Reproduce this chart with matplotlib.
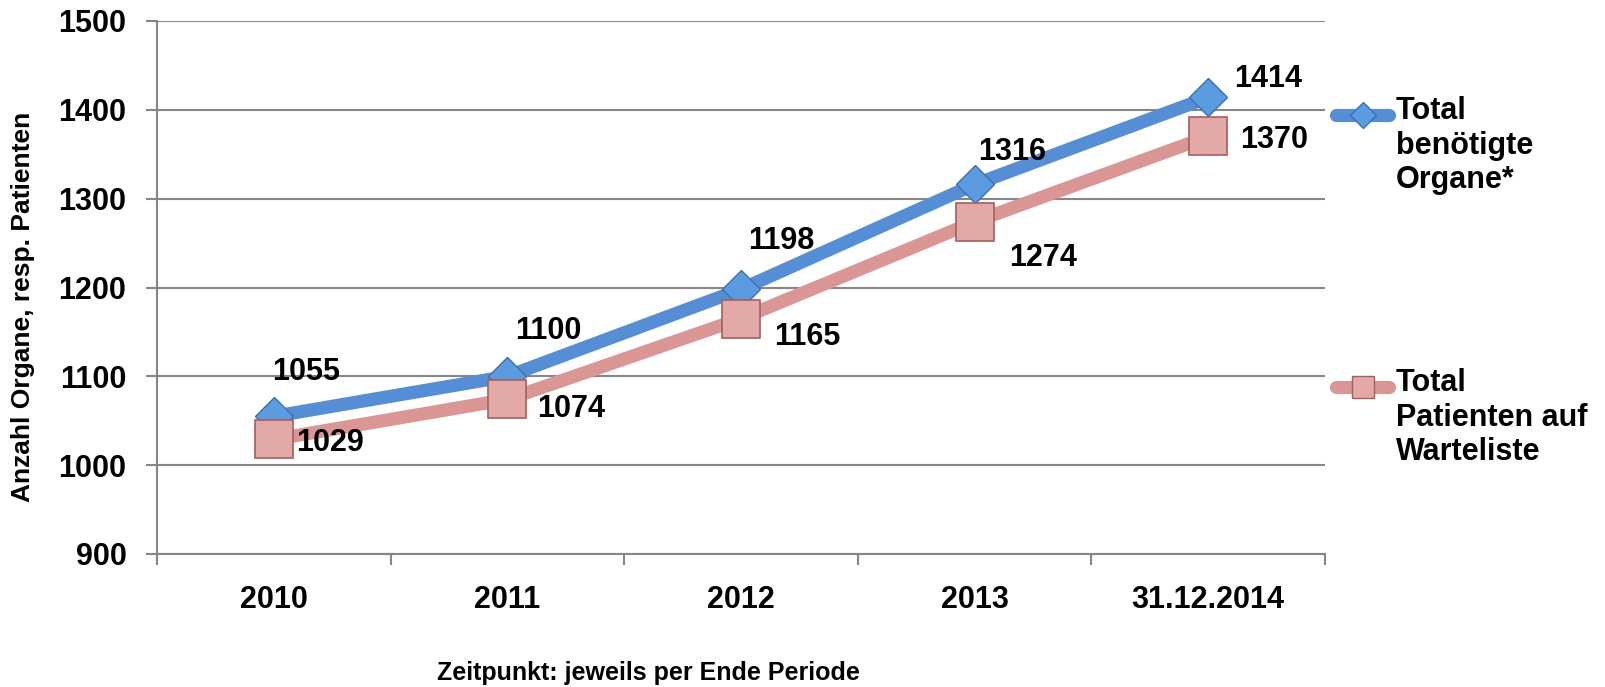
import matplotlib
matplotlib.use('Agg')
import matplotlib.pyplot as plt
from matplotlib.lines import Line2D

plt.rcParams['font.family'] = ['Liberation Sans', 'DejaVu Sans']
plt.rcParams['font.weight'] = 'bold'

categories = ['2010', '2011', '2012', '2013', '31.12.2014']
organe = [1055, 1100, 1198, 1316, 1414]
patienten = [1029, 1074, 1165, 1274, 1370]
series_names = ['Total\nbenötigte\nOrgane*', 'Total\nPatienten auf\nWarteliste']

# label offsets in pixels (layout only)
off_organe = [(32, 44), (41, 45), (40, 48), (38, 32), (60, 18)]
off_patienten = [(56, -4), (64, -10), (66, -18), (68, -36), (66, -4)]

blue = '#558ED5'
blue_edge = '#3C6EB0'
pink = '#D99694'
pink_fill = '#E3A9A7'
pink_edge = '#A35F5D'
grey = '#868686'

fig = plt.figure(figsize=(16.06, 6.87), dpi=100)
ax = fig.add_axes([157/1606, 1-554/687, (1325-157)/1606, (554-21)/687])

x = list(range(len(categories)))
ax.plot(x, organe, color=blue, lw=9.5, marker='D', ms=19.5,
        mfc='#5B9BE0', mec=blue_edge, mew=1, solid_capstyle='round', zorder=3)
ax.plot(x, patienten, color=pink, lw=9.5, marker='s', ms=27,
        mfc=pink_fill, mec=pink_edge, mew=1.2, solid_capstyle='round', zorder=4)

for xi, v, o in zip(x, organe, off_organe):
    ax.annotate(str(v), (xi, v), xytext=o, textcoords='offset pixels',
                ha='center', va='center', fontsize=22, fontweight='bold', zorder=5)
for xi, v, o in zip(x, patienten, off_patienten):
    ax.annotate(str(v), (xi, v), xytext=o, textcoords='offset pixels',
                ha='center', va='center', fontsize=22, fontweight='bold', zorder=5)

ax.set_xlim(-0.5, len(categories) - 0.5)
ax.set_ylim(900, 1500)
ax.set_yticks(range(900, 1501, 100))
ax.set_xticks(x)
ax.set_xticklabels(categories)
ax.set_xticks([i - 0.5 for i in range(len(categories) + 1)], minor=True)
ax.tick_params(axis='x', which='major', length=0, pad=22, labelsize=22)
ax.tick_params(axis='x', which='minor', length=8, width=1.5, color=grey, direction='out')
ax.tick_params(axis='y', length=8, width=1.5, color=grey, pad=14, labelsize=22)
for lab in ax.get_xticklabels() + ax.get_yticklabels():
    lab.set_fontweight('bold')

ax.grid(axis='y', color=grey, lw=1.5)
ax.set_axisbelow(True)
for s in ['top', 'right']:
    ax.spines[s].set_visible(False)
for s in ['left', 'bottom']:
    ax.spines[s].set_color(grey)
    ax.spines[s].set_linewidth(1.5)

fig.text(23/1606, 1-307/687, 'Anzahl Organe, resp. Patienten', rotation=90,
         ha='center', va='center', fontsize=19, fontweight='bold')
fig.text(648/1606, 1-673/687, 'Zeitpunkt: jeweils per Ende Periode',
         ha='center', va='center', fontsize=18, fontweight='bold')

# legend drawn by hand
W, H = 1606, 687
leg = [(115, blue, 'D', 13, '#5B9BE0', blue_edge),
       (387, pink, 's', 16, pink_fill, pink_edge)]
for (yy, c, m, ms, fc, ec), name in zip(leg, series_names):
    fig.add_artist(Line2D([1336/W, 1389/W], [1-yy/H, 1-yy/H], color=c, lw=9.5,
                          solid_capstyle='round'))
    fig.add_artist(Line2D([1363/W], [1-yy/H], marker=m, ms=ms, mfc=fc, mec=ec,
                          mew=1, lw=0))
    fig.text(1396/W, 1-(yy-19)/H, name, ha='left', va='top', fontsize=22,
             fontweight='bold', linespacing=1.2)

fig.savefig('out.png', dpi=100)
